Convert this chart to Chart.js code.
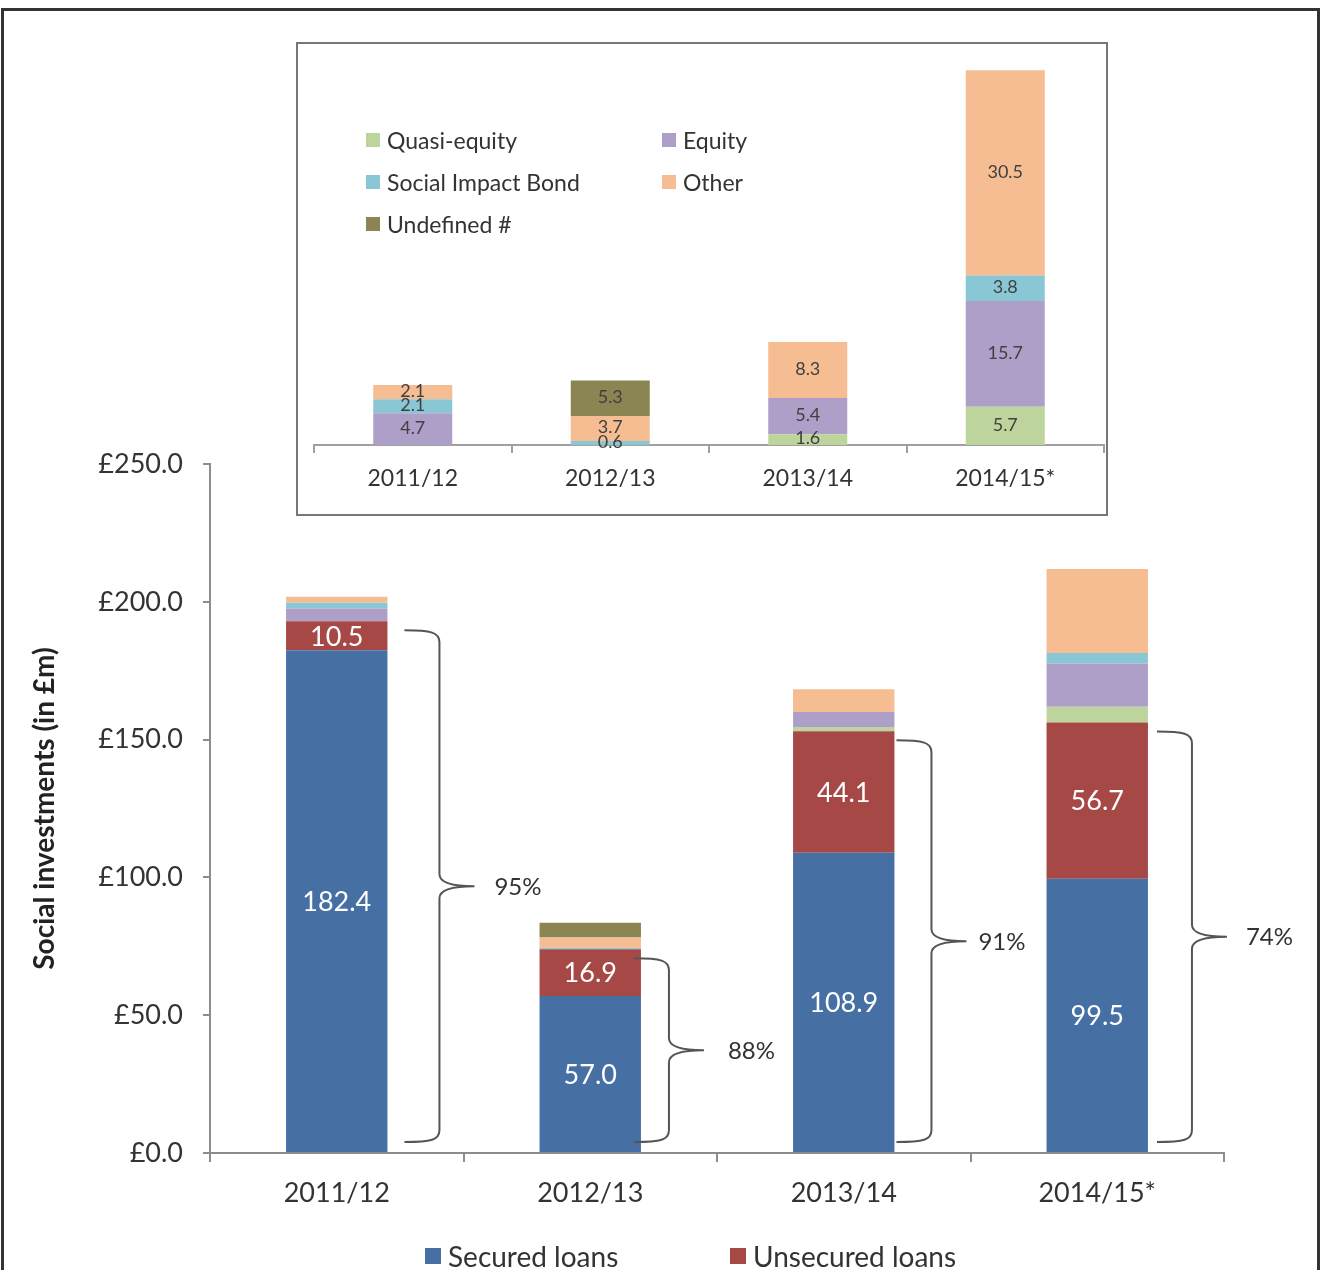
<!DOCTYPE html>
<html>
<head>
<meta charset="utf-8">
<script src="https://cdn.jsdelivr.net/npm/chart.js@4.4.1/dist/chart.umd.min.js"></script>
<style>
  body { margin: 0; background: #fff; }
  #wrap { position: relative; width: 1320px; height: 1270px; overflow: hidden; font-family: Lato, "Open Sans", sans-serif; color: #333; }
  #frame { position: absolute; left: 1px; top: 8px; width: 1313px; height: 1300px; border: 3px solid #333; }
  #main { position: absolute; left: 0; top: 0; }
  #insetBox { position: absolute; left: 296px; top: 42px; width: 808px; height: 470px; border: 2px solid #777; background: #fff; }
  #inset { position: absolute; left: 0; top: 0; }
  .lg { position: absolute; display: flex; align-items: center; white-space: nowrap; color: #333; }
  .lg i { display: inline-block; margin-right: 7px; }
</style>
</head>
<body>
<div id="wrap">
  <canvas id="main" width="1320" height="1270"></canvas>
  <div id="insetBox"><canvas id="inset" width="808" height="470"></canvas></div>
  <div id="frame"></div>
</div>
<script>
/* ─── Data ─────────────────────────────────────────────── */
const years            = ['2011/12', '2012/13', '2013/14', '2014/15*'];
const securedLoans     = [182.4, 57.0, 108.9, 99.5];
const unsecuredLoans   = [10.5, 16.9, 44.1, 56.7];
const quasiEquity      = [0, 0, 1.6, 5.7];
const equity           = [4.7, 0, 5.4, 15.7];
const socialImpactBond = [2.1, 0.6, 0, 3.8];
const other            = [2.1, 3.7, 8.3, 30.5];
const undefinedType    = [0, 5.3, 0, 0];
const loanShare        = ['95%', '88%', '91%', '74%'];

/* ─── Styles ───────────────────────────────────────────── */
const FONT = 'Lato, "Open Sans", sans-serif';
const COLORS = {
  secured: '#4670a4', unsecured: '#a64946', quasi: '#bdd59c', equity: '#ae9fc8',
  sib: '#8ac7d5', other: '#f5bd91', undef: '#8a8553'
};
// per-bar horizontal gap from bar edge to brace spine, and tip-to-text gap
const BRACE_GAP = [52, 28, 37, 44];
const TEXT_GAP  = [20, 24, 12, 19];

Chart.defaults.font.family = FONT;
Chart.defaults.color = '#404040';

const otherSeries = [
  { label: 'Quasi-equity',       data: quasiEquity,      color: COLORS.quasi },
  { label: 'Equity',             data: equity,           color: COLORS.equity },
  { label: 'Social Impact Bond', data: socialImpactBond, color: COLORS.sib },
  { label: 'Other',              data: other,            color: COLORS.other },
  { label: 'Undefined #',        data: undefinedType,    color: COLORS.undef }
];

function ds(label, data, color) {
  return { label, data, backgroundColor: color, borderWidth: 0,
           barPercentage: 0.8, categoryPercentage: 0.5 };
}

/* ─── Main chart plugin: labels + braces ───────────────── */
const mainDecor = {
  id: 'mainDecor',
  afterDatasetsDraw(chart) {
    const ctx = chart.ctx;
    const y = chart.scales.y;
    ctx.save();
    ctx.font = '27px ' + FONT;
    ctx.fillStyle = '#fff';
    ctx.textAlign = 'center';
    ctx.textBaseline = 'middle';
    [0, 1].forEach(di => {
      chart.getDatasetMeta(di).data.forEach((bar, i) => {
        const v = chart.data.datasets[di].data[i];
        ctx.fillText(v.toFixed(1), bar.x, (bar.y + bar.base) / 2 + 1);
      });
    });
    // braces
    ctx.strokeStyle = '#555';
    ctx.lineWidth = 2;
    chart.getDatasetMeta(1).data.forEach((bar, i) => {
      const right = bar.x + bar.width / 2;
      const vx = right + BRACE_GAP[i];
      const ax = vx - 35, tx = vx + 35;
      const top = y.getPixelForValue(securedLoans[i] + unsecuredLoans[i]) + 9;
      const bot = y.getPixelForValue(0) - 11;
      const mid = (top + bot) / 2;
      const r = 12;
      ctx.beginPath();
      ctx.moveTo(ax, top);
      ctx.bezierCurveTo(vx - 8, top, vx, top + 2, vx, top + r);
      ctx.lineTo(vx, mid - r);
      ctx.quadraticCurveTo(vx, mid, tx, mid);
      ctx.moveTo(tx, mid);
      ctx.quadraticCurveTo(vx, mid, vx, mid + r);
      ctx.lineTo(vx, bot - r);
      ctx.bezierCurveTo(vx, bot - 2, vx - 8, bot, ax, bot);
      ctx.stroke();
      ctx.font = '24px ' + FONT;
      ctx.fillStyle = '#333';
      ctx.textAlign = 'left';
      ctx.fillText(loanShare[i], tx + TEXT_GAP[i], mid + 1);
    });
    ctx.restore();
  }
};

new Chart(document.getElementById('main'), {
  type: 'bar',
  data: {
    labels: years,
    datasets: [
      ds('Secured loans', securedLoans, COLORS.secured),
      ds('Unsecured loans', unsecuredLoans, COLORS.unsecured),
      ...otherSeries.map(s => ds(s.label, s.data, s.color))
    ]
  },
  options: {
    responsive: false,
    animation: false,
    layout: { padding: { left: 0, right: 96, top: 464, bottom: 0 } },
    plugins: { legend: { display: false }, tooltip: { enabled: false } },
    scales: {
      x: {
        stacked: true,
        afterFit: s => { s.height = 117; },
        border: { color: '#8c8c8c', width: 2 },
        grid: { offset: true, drawOnChartArea: false, tickLength: 9, color: '#8c8c8c', lineWidth: 2 },
        ticks: { font: { size: 27 }, color: '#333', padding: 15 }
      },
      y: {
        stacked: true,
        min: 0, max: 250,
        afterFit: s => { s.width = 210; },
        border: { color: '#8c8c8c', width: 2 },
        grid: { drawOnChartArea: false, tickLength: 7, color: '#8c8c8c', lineWidth: 2 },
        ticks: { stepSize: 50, font: { size: 27 }, color: '#333', padding: 20,
                 callback: v => '£' + Number(v).toFixed(1) },
        title: { display: true, text: 'Social investments (in £m)', color: '#222',
                 font: { size: 28, weight: 'bold' }, padding: { top: 28, bottom: 0 } }
      }
    }
  },
  plugins: [mainDecor]
});

/* ─── Inset chart ──────────────────────────────────────── */
const insetLabels = {
  id: 'insetLabels',
  afterDatasetsDraw(chart) {
    const ctx = chart.ctx;
    ctx.save();
    ctx.font = '18px ' + FONT;
    ctx.fillStyle = '#404040';
    ctx.textAlign = 'center';
    ctx.textBaseline = 'middle';
    chart.data.datasets.forEach((d, di) => {
      chart.getDatasetMeta(di).data.forEach((bar, i) => {
        const v = d.data[i];
        if (!v) return;
        ctx.fillText(v.toFixed(1), bar.x, (bar.y + bar.base) / 2 - 1);
      });
    });
    ctx.restore();
  }
};

new Chart(document.getElementById('inset'), {
  type: 'bar',
  data: {
    labels: years,
    datasets: otherSeries.map(s => ds(s.label, s.data, s.color))
  },
  options: {
    responsive: false,
    animation: false,
    layout: { padding: { left: 16, right: 2, top: 4, bottom: 0 } },
    plugins: { legend: { display: false }, tooltip: { enabled: false } },
    scales: {
      x: {
        stacked: true,
        afterFit: s => { s.height = 69; },
        border: { color: '#a0a0a0', width: 2 },
        grid: { offset: true, drawOnChartArea: false, tickLength: 8, color: '#a0a0a0', lineWidth: 2 },
        ticks: { font: { size: 23 }, color: '#333', padding: 12 }
      },
      y: { stacked: true, display: false, min: 0, max: 59 }
    }
  },
  plugins: [insetLabels]
});

/* ─── HTML legends ─────────────────────────────────────── */
function addLegend(items) {
  const wrap = document.getElementById('wrap');
  items.forEach(it => {
    const el = document.createElement('div');
    el.className = 'lg';
    el.style.left = it.x + 'px';
    el.style.top = (it.y - 20) + 'px';
    el.style.height = '40px';
    el.style.fontSize = it.size + 'px';
    el.innerHTML = `<i style="width:${it.box}px;height:${it.box}px;background:${it.color}"></i>${it.label}`;
    wrap.appendChild(el);
  });
}
addLegend([
  { label: otherSeries[0].label, color: otherSeries[0].color, x: 366, y: 140, box: 14, size: 23 },
  { label: otherSeries[1].label, color: otherSeries[1].color, x: 662, y: 140, box: 14, size: 23 },
  { label: otherSeries[2].label, color: otherSeries[2].color, x: 366, y: 182, box: 14, size: 23 },
  { label: otherSeries[3].label, color: otherSeries[3].color, x: 662, y: 182, box: 14, size: 23 },
  { label: otherSeries[4].label, color: otherSeries[4].color, x: 366, y: 224, box: 14, size: 23 },
  { label: 'Secured loans',   color: COLORS.secured,   x: 425, y: 1256, box: 16, size: 28 },
  { label: 'Unsecured loans', color: COLORS.unsecured, x: 730, y: 1256, box: 16, size: 28 }
]);
</script>
</body>
</html>
